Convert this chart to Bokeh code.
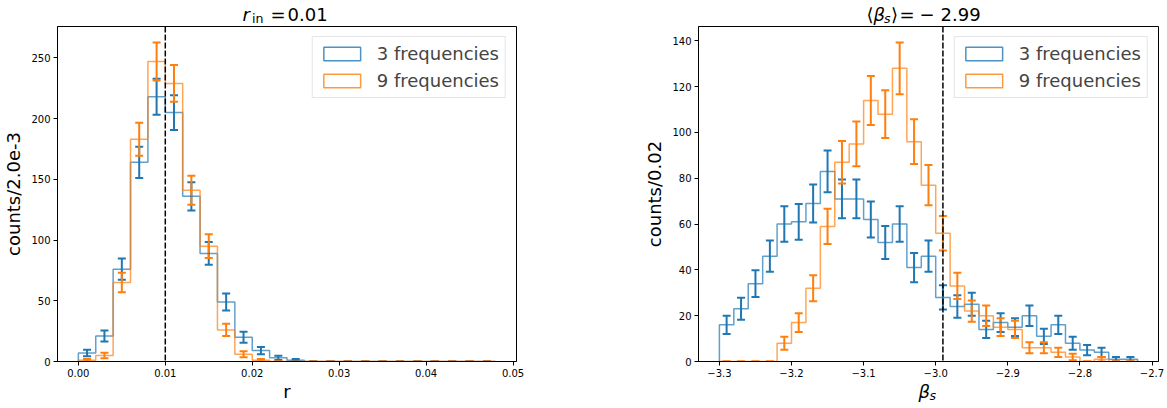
import numpy as np
from bokeh.plotting import figure
from bokeh.models import (ColumnDataSource, Whisker, TeeHead, Span, Label, Legend,
                          LegendItem, FixedTicker, CustomJSTickFormatter, Range1d,
                          PrintfTickFormatter)
from bokeh.layouts import row, column
from bokeh.embed import file_html
from bokeh.resources import INLINE

# ---------------- data ----------------
series_names = ["3 frequencies", "9 frequencies"]

# left panel: r histogram
r_start = 0.0
r_bin_width = 0.002
r_counts_3 = [7, 21, 76, 164, 218, 205, 136, 89, 49, 20, 9, 3, 1, 0, 0, 0, 0, 0, 0, 0, 0, 0, 0, 0]
r_counts_9 = [1, 5, 65, 183, 247, 229, 141, 95, 26, 6, 1, 0, 0, 0, 0, 0, 0, 0, 0, 0, 0, 0, 0, 0]
r_in = 0.01
r_xticks = [0.00, 0.01, 0.02, 0.03, 0.04, 0.05]
r_yticks = [0, 50, 100, 150, 200, 250]

# right panel: beta_s histogram
b_start = -3.3
b_bin_width = 0.02
b_counts_3 = [16, 23, 34, 46, 60, 61, 69, 83, 71, 71, 62, 52, 60, 41, 46, 28, 24, 25, 14, 17,
              15, 20, 11, 16, 8, 5, 4, 1, 1]
b_counts_9 = [0, 0, 0, 0, 8, 17, 32, 59, 87, 95, 114, 108, 128, 96, 77, 56, 33, 22, 20, 15,
              14, 6, 6, 4, 2, 0, 1, 0, 0]
b_mean = -2.99
b_xticks = [-3.3, -3.2, -3.1, -3.0, -2.9, -2.8, -2.7]
b_yticks = [0, 20, 40, 60, 80, 100, 120, 140]

# ---------------- style / layout ----------------
COLORS = ["#1f77b4", "#ff7f0e"]
FONT = "DejaVu Sans"
TOP_H = 26                 # title strip height
FH = 335                   # frame height
TICK_H = 20                # space for tick labels below the frame
BOT_H = 408 - TOP_H - FH - TICK_H   # x-label strip height
BASE_FIX = 7               # baseline correction for strip labels (px)


def make_fig(frame_w, border_left, border_right, xr, yr):
    p = figure(frame_width=frame_w, frame_height=FH, min_border_left=border_left,
               min_border_right=border_right, min_border_top=0,
               min_border_bottom=TICK_H, x_range=xr, y_range=yr,
               output_backend="svg", toolbar_location=None)
    p.xgrid.visible = False
    p.ygrid.visible = False
    p.outline_line_color = "black"
    p.outline_line_width = 1
    p.background_fill_color = "white"
    p.border_fill_color = "white"
    for ax in (p.xaxis[0], p.yaxis[0]):
        ax.axis_line_color = "black"
        ax.axis_line_width = 1
        ax.major_tick_out = 4
        ax.major_tick_in = 0
        ax.minor_tick_out = 0
        ax.minor_tick_in = 0
        ax.major_tick_line_color = "black"
        ax.major_label_text_font = FONT
        ax.major_label_text_font_size = "10px"
        ax.major_label_text_color = "#000000"
        ax.major_label_standoff = 3
        ax.axis_label_text_font = FONT
        ax.axis_label_text_font_size = "18px"
        ax.axis_label_text_font_style = "normal"
        ax.axis_label_text_color = "#000000"
        ax.axis_label_standoff = 4
    return p


def make_strip(width, height, frame_left, frame_w, border_left, page_top):
    # the column layout aligns this strip's frame with the panel's frame,
    # so its x range is expressed in page pixels of that frame
    s = figure(width=width, height=height, frame_width=frame_w,
               x_range=Range1d(frame_left, frame_left + frame_w),
               y_range=Range1d(0, height), min_border=0, min_border_left=border_left,
               min_border_right=width - border_left - frame_w,
               x_axis_location=None, y_axis_location=None,
               output_backend="svg", toolbar_location=None)
    s.xgrid.visible = False
    s.ygrid.visible = False
    s.outline_line_color = None
    s.background_fill_color = "white"
    s.border_fill_color = "white"
    s._page = (page_top, height)
    return s


def add_text(s, px, py, text, size, style="normal", align="left"):
    top, h = s._page
    py = py - BASE_FIX
    s.add_layout(Label(x=px, y=h - (py - top), text=text, text_font=FONT,
                       text_font_size=f"{size}px", text_font_style=style,
                       text_align=align, text_baseline="alphabetic", text_color="black"))


def draw_hist(p, start, width, counts_list, vline):
    n = len(counts_list[0])
    edges = start + width * np.arange(n + 1)
    centers = 0.5 * (edges[:-1] + edges[1:])
    items = []
    for counts, color, name in zip(counts_list, COLORS, series_names):
        c = np.asarray(counts, dtype=float)
        xs = np.repeat(edges, 2)
        ys = np.concatenate([[0.0], np.repeat(c, 2), [0.0]])
        p.line(xs, ys, line_color=color, line_width=1.5, line_alpha=0.7)
        # hidden box renderer used for the legend swatch
        box = p.quad(left=edges[:-1], right=edges[1:], bottom=np.zeros(n), top=c,
                     fill_alpha=0, line_color=color, line_width=1.5, line_alpha=0.8)
        box.visible = False
        items.append(LegendItem(label=name, renderers=[box]))
    for counts, color in zip(counts_list, COLORS):
        c = np.asarray(counts, dtype=float)
        err = np.sqrt(c)
        src = ColumnDataSource(dict(x=centers, lower=c - err, upper=c + err))
        p.add_layout(Whisker(source=src, base="x", lower="lower", upper="upper",
                             dimension="height", line_color=color, line_width=2,
                             lower_head=TeeHead(size=8, line_color=color, line_width=2),
                             upper_head=TeeHead(size=8, line_color=color, line_width=2)))
    p.add_layout(Span(location=vline, dimension="height", line_color="black",
                      line_width=1.5, line_dash="6 2"))
    leg = Legend(items=items, location="top_right", margin=10, padding=6, spacing=6,
                 glyph_width=46, glyph_height=17, label_standoff=12,
                 label_text_font=FONT, label_text_font_size="18px",
                 border_line_color="#cccccc", border_line_width=1,
                 background_fill_color="white", background_fill_alpha=0.8)
    p.add_layout(leg)


def ranges(start, width, counts_list):
    n = len(counts_list[0])
    lo, hi = start, start + width * n
    m = 0.05 * (hi - lo)
    top = max(max(np.asarray(c) + np.sqrt(c)) for c in counts_list) * 1.05
    return Range1d(lo - m, hi + m), Range1d(0, top)


BOT_TOP = TOP_H + FH + TICK_H

# ---------------- left panel ----------------
W1, L1, FW1 = 600, 57, 459
xr1, yr1 = ranges(r_start, r_bin_width, [r_counts_3, r_counts_9])
p1 = make_fig(FW1, L1, W1 - L1 - FW1, xr1, yr1)
draw_hist(p1, r_start, r_bin_width, [r_counts_3, r_counts_9], r_in)
p1.xaxis.ticker = FixedTicker(ticks=r_xticks)
p1.yaxis.ticker = FixedTicker(ticks=r_yticks)
p1.xaxis.formatter = PrintfTickFormatter(format="%.2f")
p1.yaxis.axis_label = "counts/2.0e-3"

t1 = make_strip(W1, TOP_H, L1, FW1, L1, 0)
add_text(t1, 242, 20.5, "r", 18, "italic")
add_text(t1, 251.5, 24.5, "in", 12.6)
add_text(t1, 270, 20.5, "=", 18)
add_text(t1, 287, 20.5, "0.01", 18)
b1 = make_strip(W1, BOT_H, L1, FW1, L1, BOT_TOP)
add_text(b1, 286.5, 398, "r", 18, align="center")

# ---------------- right panel ----------------
W2, L2, FW2 = 567, 98, 460
xr2, yr2 = ranges(b_start, b_bin_width, [b_counts_3, b_counts_9])
p2 = make_fig(FW2, L2, W2 - L2 - FW2, xr2, yr2)
draw_hist(p2, b_start, b_bin_width, [b_counts_3, b_counts_9], b_mean)
p2.xaxis.ticker = FixedTicker(ticks=b_xticks)
p2.yaxis.ticker = FixedTicker(ticks=b_yticks)
p2.xaxis.formatter = CustomJSTickFormatter(code="return tick.toFixed(1).replace('-', '\u2212');")
p2.yaxis.axis_label = "counts/0.02"

t2 = make_strip(W2, TOP_H, W1 + L2, FW2, L2, 0)
add_text(t2, 866, 20.5, "\u27e8", 18)
add_text(t2, 873, 20.5, "\u03b2", 18, "italic")
add_text(t2, 883.5, 24.5, "s", 12.6, "italic")
add_text(t2, 890.5, 20.5, "\u27e9", 18)
add_text(t2, 899, 20.5, "=", 18)
add_text(t2, 919, 20.5, "\u2212", 18)
add_text(t2, 940, 20.5, "2.99", 18)
b2 = make_strip(W2, BOT_H, W1 + L2, FW2, L2, BOT_TOP)
add_text(b2, 918, 398, "\u03b2", 18, "italic")
add_text(b2, 929, 402, "s", 12.6, "italic")

layout = row(column(t1, p1, b1), column(t2, p2, b2))
open("out.html", "w").write(file_html(layout, INLINE))
